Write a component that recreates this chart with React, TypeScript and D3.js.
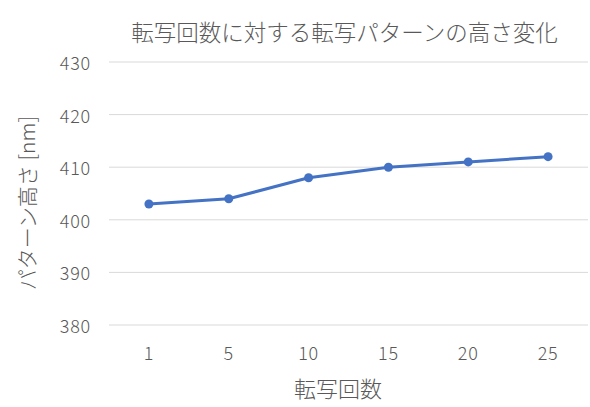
import React from "react";
import * as d3 from "d3";

const categories = ["1", "5", "10", "15", "20", "25"];
const heights = [403, 404, 408, 410, 411, 412];
const yTicks = [380, 390, 400, 410, 420, 430];

const chartTitle = "転写回数に対する転写パターンの高さ変化";
const xTitle = "転写回数";
const yTitle = "パターン高さ [nm]";

const width = 590;
const height = 407;
const marginLeft = 109;
const marginRight = 2;
const marginTop = 62;
const marginBottom = 82;

const font = "'Noto Sans CJK JP', 'Noto Sans', sans-serif";
const textColor = "#595959";

const App = () => {
  const x = d3
    .scaleBand<string>()
    .domain(categories)
    .range([marginLeft, width - marginRight]);

  const y = d3
    .scaleLinear()
    .domain([380, 430])
    .range([height - marginBottom, marginTop]);

  const points = categories.map((c, i) => ({ c, v: heights[i] }));

  const line = d3
    .line<{ c: string; v: number }>()
    .x((d) => x(d.c)! + x.bandwidth() / 2)
    .y((d) => y(d.v));

  const plotCenter = (marginLeft + width - marginRight) / 2;

  return (
    <svg
      width={width}
      height={height}
      style={{ position: "absolute", left: 0, top: 0, background: "#fff" }}
      fontFamily={font}
      fontWeight={300}
    >
      {/* title */}
      <text
        x={plotCenter - 4}
        y={35}
        textAnchor="middle"
        dominantBaseline="middle"
        fontSize={22.5}
        fill={textColor}
      >
        {chartTitle}
      </text>

      {/* grid + y labels */}
      {yTicks.map((t) => (
        <g key={t}>
          <line
            x1={marginLeft}
            x2={width - marginRight}
            y1={y(t)}
            y2={y(t)}
            stroke="#d9d9d9"
            strokeWidth={1}
          />
          <text
            x={91}
            y={y(t)}
            textAnchor="end"
            dominantBaseline="central"
            fontSize={18}
            letterSpacing={0.8}
            fill={textColor}
          >
            {t}
          </text>
        </g>
      ))}

      {/* x labels */}
      {categories.map((c) => (
        <text
          key={c}
          x={x(c)! + x.bandwidth() / 2}
          y={352}
          textAnchor="middle"
          dominantBaseline="central"
          fontSize={18}
          letterSpacing={0.8}
          fill={textColor}
        >
          {c}
        </text>
      ))}

      {/* axis titles */}
      <text
        x={338}
        y={387}
        textAnchor="middle"
        dominantBaseline="central"
        fontSize={22}
        fill={textColor}
      >
        {xTitle}
      </text>
      <text
        transform={`translate(26,203) rotate(-90)`}
        textAnchor="middle"
        dominantBaseline="central"
        fontSize={21}
        fill={textColor}
      >
        {yTitle}
      </text>

      {/* series */}
      <path
        d={line(points) ?? ""}
        fill="none"
        stroke="#4472C4"
        strokeWidth={3}
        strokeLinejoin="round"
        strokeLinecap="round"
      />
      {points.map((p) => (
        <circle
          key={p.c}
          cx={x(p.c)! + x.bandwidth() / 2}
          cy={y(p.v)}
          r={4.5}
          fill="#4472C4"
        />
      ))}
    </svg>
  );
};

export default App;
